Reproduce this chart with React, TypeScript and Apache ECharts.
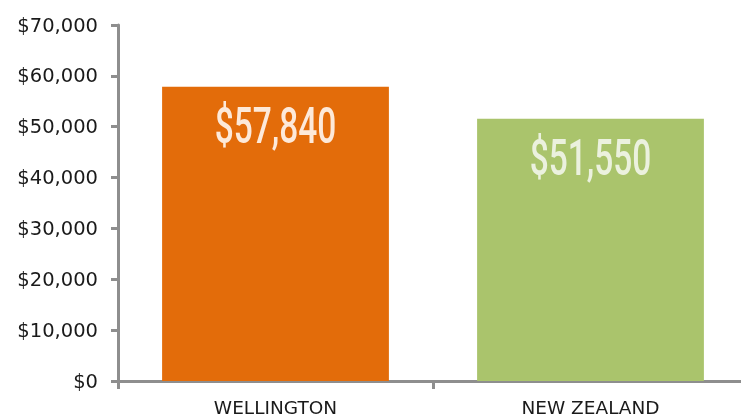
import React, { useEffect, useRef } from "react";
import * as echarts from "echarts";

const categories = ["WELLINGTON", "NEW ZEALAND"];
const values = [57840, 51550];
const barColors = ["#E36C0A", "#AAC46C"];
const labelColors = ["#FDE9D9", "#EBF1DE"];
const yTicks = { min: 0, max: 70000, interval: 10000 };

const fmt = (v: number) => "$" + v.toLocaleString("en-US");

export default function App() {
  const ref = useRef<HTMLDivElement>(null);
  useEffect(() => {
    if (!ref.current) return;
    const chart = echarts.init(ref.current, undefined, { renderer: "svg" });
    const axisColor = "#8E8E8E";
    chart.setOption({
      animation: false,
      grid: {
        left: 118,
        width: 630,
        top: 25,
        bottom: 39,
        containLabel: false,
        outerBoundsMode: "none",
      },
      xAxis: {
        type: "category",
        data: categories,
        axisLine: { lineStyle: { color: axisColor, width: 3 } },
        axisTick: { show: true, length: 8, lineStyle: { color: axisColor, width: 3 } },
        axisLabel: { color: "#1a1a1a", fontFamily: "DejaVu Sans", fontSize: 18.5, margin: 17 },
      },
      yAxis: {
        type: "value",
        min: yTicks.min,
        max: yTicks.max,
        interval: yTicks.interval,
        splitLine: { show: false },
        axisLine: { show: true, lineStyle: { color: axisColor, width: 3 } },
        axisTick: { show: true, length: 7, lineStyle: { color: axisColor, width: 3 } },
        axisLabel: {
          color: "#1a1a1a",
          fontFamily: "DejaVu Sans",
          fontSize: 19.5,
          margin: 20,
          formatter: (v: number) => fmt(v),
        },
      },
      series: [
        {
          type: "bar",
          barWidth: "72%",
          data: values.map((v, i) => ({ value: v, itemStyle: { color: barColors[i] } })),
          z: 2,
        },
        {
          type: "custom",
          z: 5,
          data: values.map((v, i) => [i, v]),
          renderItem: (params: any, api: any) => {
            const i = api.value(0);
            const v = api.value(1);
            const p = api.coord([i, v]);
            return {
              type: "text",
              x: p[0],
              y: p[1] + 39,
              scaleX: 0.67,
              scaleY: 1,
              style: {
                text: fmt(v),
                fill: labelColors[i],
                font: "500 50px Roboto",
                align: "center",
                verticalAlign: "middle",
              },
            };
          },
        },
      ],
    });
    return () => chart.dispose();
  }, []);
  return (
    <div
      ref={ref}
      style={{ position: "fixed", left: 0, top: 0, width: 741, height: 420, overflow: "hidden" }}
    />
  );
}
